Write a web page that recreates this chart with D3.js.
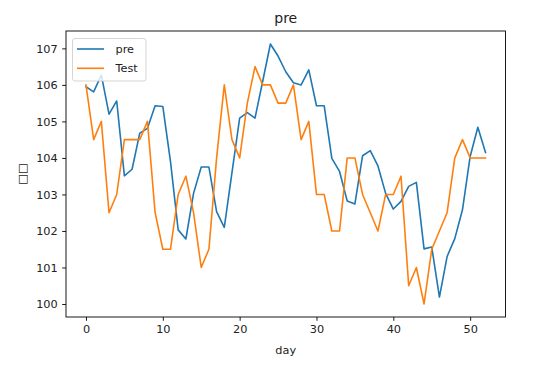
<!DOCTYPE html>
<html>
<head>
<meta charset="utf-8">
<script src="https://cdn.jsdelivr.net/npm/d3@7"></script>
<style>
  body { margin: 0; background: #fff; }
  text { font-family: "DejaVu Sans", sans-serif; }
</style>
</head>
<body>
<div id="canvas"></div>
<script>
const preValues = [105.95, 105.81, 106.27, 105.2, 105.56, 103.51, 103.69, 104.68, 104.81, 105.43,
  105.41, 103.9, 102.03, 101.78, 103.03, 103.75, 103.75, 102.53, 102.1, 103.6,
  105.09, 105.24, 105.09, 106.1, 107.12, 106.79, 106.36, 106.06, 106.0, 106.41,
  105.43, 105.43, 103.99, 103.63, 102.82, 102.74, 104.06, 104.2, 103.78, 103.03,
  102.6, 102.81, 103.22, 103.33, 101.51, 101.56, 100.19, 101.3, 101.79, 102.58,
  104.04, 104.84, 104.15]
const testValues = [106, 104.5, 105, 102.5, 103, 104.5, 104.5, 104.5, 105, 102.5,
  101.5, 101.5, 103, 103.5, 102.5, 101, 101.5, 104, 106, 104.5,
  104, 105.5, 106.5, 106, 106, 105.5, 105.5, 106, 104.5, 105,
  103, 103, 102, 102, 104, 104, 103, 102.5, 102, 103,
  103, 103.5, 100.5, 101, 100, 101.5, 102, 102.5, 104, 104.5,
  104, 104, 104]
const xTicks = [0, 10, 20, 30, 40, 50]
const yTicks = [100, 101, 102, 103, 104, 105, 106, 107]
const seriesNames = ['pre', 'Test']
const seriesColors = ['#1f77b4', '#ff7f0e']

const width = 535, height = 367
const margin = {top: 31, left: 66, right: 29.5, bottom: 50}
const fs = 11.3

const svg = d3.select('#canvas').append('svg')
  .attr('width', width).attr('height', height)

const n = preValues.length
const allV = preValues.concat(testValues)
const vmin = d3.min(allV), vmax = d3.max(allV)
const padY = (vmax - vmin) * 0.05, padX = (n - 1) * 0.05

const x = d3.scaleLinear()
  .domain([-padX, n - 1 + padX])
  .range([margin.left, width - margin.right])
const y = d3.scaleLinear()
  .domain([vmin - padY, vmax + padY])
  .range([height - margin.bottom, margin.top])

const line = d3.line().x((d, i) => x(i)).y(d => y(d))

const g = svg.append('g')
;[preValues, testValues].forEach((vals, k) => {
  g.append('path')
    .datum(vals)
    .attr('d', line)
    .attr('fill', 'none')
    .attr('stroke', seriesColors[k])
    .attr('stroke-width', 1.6)
    .attr('stroke-linejoin', 'round')
    .attr('stroke-linecap', 'square')
})

// axes
const xAxis = svg.append('g')
  .attr('transform', `translate(0,${height - margin.bottom})`)
  .call(d3.axisBottom(x).tickValues(xTicks).tickSize(3.8).tickPadding(4.5))
const yAxis = svg.append('g')
  .attr('transform', `translate(${margin.left},0)`)
  .call(d3.axisLeft(y).tickValues(yTicks).tickSize(3.8).tickPadding(4.5))
;[xAxis, yAxis].forEach(a => {
  a.select('.domain').remove()
  a.selectAll('line').attr('stroke', '#000').attr('stroke-width', 0.9)
  a.selectAll('text').attr('font-size', fs).attr('fill', '#222')
    .attr('font-family', '"DejaVu Sans", sans-serif')
})

// frame
svg.append('rect')
  .attr('x', margin.left).attr('y', margin.top)
  .attr('width', width - margin.right - margin.left)
  .attr('height', height - margin.bottom - margin.top)
  .attr('fill', 'none').attr('stroke', '#000').attr('stroke-width', 0.9)

// labels
const cx = (margin.left + width - margin.right) / 2
svg.append('text').text('pre')
  .attr('x', cx).attr('y', 23).attr('text-anchor', 'middle')
  .attr('font-size', 14).attr('fill', '#222')
svg.append('text').text('day')
  .attr('x', cx).attr('y', 353.5).attr('text-anchor', 'middle')
  .attr('font-size', fs).attr('fill', '#222')
svg.append('text').text('□□')
  .attr('transform', `translate(26,${(margin.top + height - margin.bottom) / 2}) rotate(-90)`)
  .attr('text-anchor', 'middle')
  .attr('font-size', fs).attr('fill', '#222')

// legend
const lg = svg.append('g').attr('transform', 'translate(72.5,38.5)')
lg.append('rect')
  .attr('width', 73.5).attr('height', 42.5).attr('rx', 2.5)
  .attr('fill', '#fff').attr('fill-opacity', 0.8)
  .attr('stroke', '#d0d0d0').attr('stroke-width', 0.9)
seriesNames.forEach((name, i) => {
  const yy = 10.5 + i * 19.3
  lg.append('line')
    .attr('x1', 4.5).attr('x2', 31.5).attr('y1', yy).attr('y2', yy)
    .attr('stroke', seriesColors[i]).attr('stroke-width', 1.6)
  lg.append('text').text(name)
    .attr('x', 43).attr('y', yy + 4)
    .attr('font-size', fs).attr('fill', '#222')
})
</script>
</body>
</html>
